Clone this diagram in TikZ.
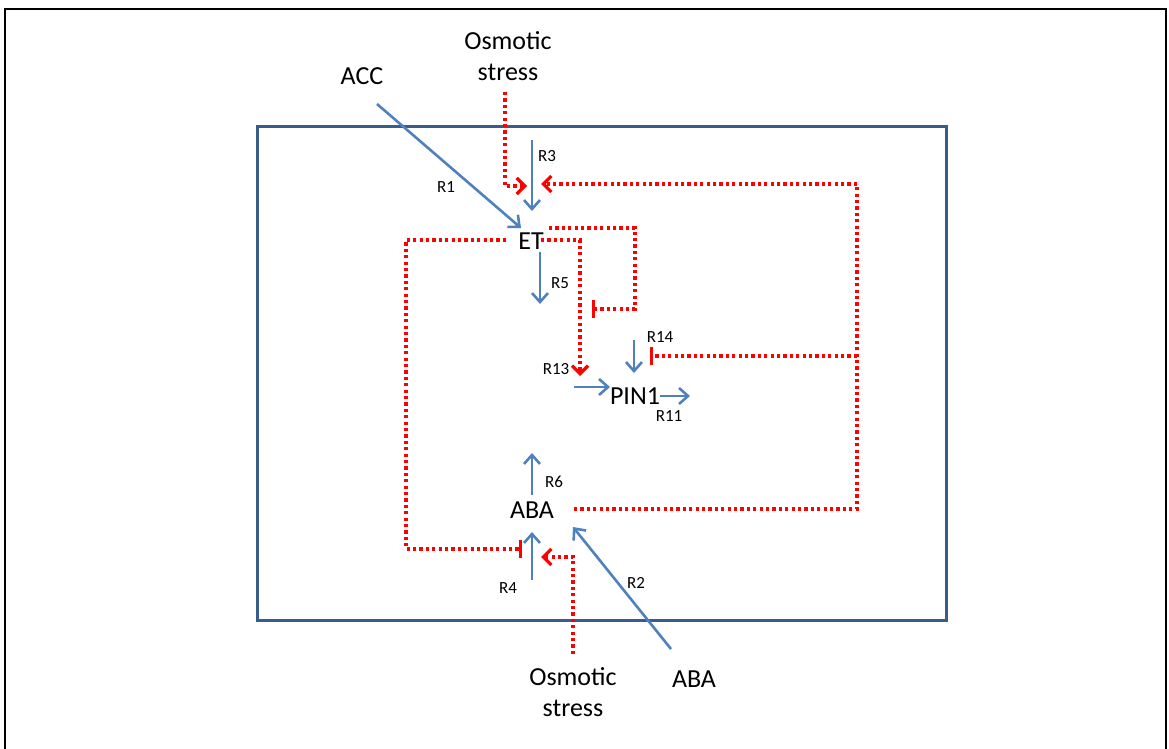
\documentclass[tikz,border=0pt]{standalone}
\usepackage{fontspec}
\setmainfont{Carlito}
\usetikzlibrary{arrows.meta}

\definecolor{arrowblue}{RGB}{79,129,189}
\definecolor{boxblue}{RGB}{56,93,138}
\tikzset{
  bigtext/.style={font=\fontsize{13}{15.5}\selectfont,inner sep=0pt,align=center},
  smalltext/.style={font=\fontsize{8.5}{10}\selectfont,inner sep=0pt},
  bluearrow/.style={draw=arrowblue,line width=1.3pt,-{Straight Barb[length=4.5pt,width=8pt]}},
  reddots/.style={draw=red,line width=1.6pt,dash pattern=on 1.6pt off 1.6pt},
  redarrow/.style={reddots,-{Straight Barb[length=4pt,width=8pt]}},
  redbar/.style={reddots,-{Bar[width=9pt]}},
}

\begin{document}
\begin{tikzpicture}[x=0.5pt,y=-0.5pt]
  \useasboundingbox (0,0) rectangle (1169,749);
  % frame and cell
  \draw[line width=1pt] (5,749) |- (1166,9) -- (1166,749);
  \draw[boxblue,line width=1.5pt] (257,127) rectangle (946,620);
  %
  \node[bigtext] (acc) at (362,76) {ACC};
  \node[bigtext] (osmtop) at (508,56) {Osmotic\\stress};
  \node[bigtext] (et) at (531,241) {ET};
  \node[bigtext] (pin) at (635,396) {PIN1};
  \node[bigtext] (aba) at (532,510) {ABA};
  \node[bigtext] (abaout) at (694,679) {ABA};
  \node[bigtext] (osmbot) at (573,692) {Osmotic\\stress};
  %
  \node[smalltext] (lr1) at (446,187) {R1};
  \node[smalltext] (lr2) at (636,583) {R2};
  \node[smalltext] (lr3) at (547,156) {R3};
  \node[smalltext] (lr4) at (508,588) {R4};
  \node[smalltext] (lr5) at (560,283) {R5};
  \node[smalltext] (lr6) at (554,482) {R6};
  \node[smalltext] (lr11) at (669,416) {R11};
  \node[smalltext] (lr13) at (556,369) {R13};
  \node[smalltext] (lr14) at (660,337) {R14};
  %
  \coordinate (r1s) at (377,104);  \coordinate (r1e) at (521,228);
  \coordinate (r2s) at (671,649);  \coordinate (r2e) at (573,527);
  \coordinate (r3s) at (532,140);  \coordinate (r3e) at (532,211);
  \coordinate (r4s) at (532,580);  \coordinate (r4e) at (532,532);
  \coordinate (r5s) at (540,252);  \coordinate (r5e) at (540,304);
  \coordinate (r6s) at (532,495);  \coordinate (r6e) at (532,453);
  \coordinate (r11s) at (660,396); \coordinate (r11e) at (690,396);
  \coordinate (r13s) at (574,387); \coordinate (r13e) at (610,387);
  \coordinate (r14s) at (634,340); \coordinate (r14e) at (634,373);
  %
  \draw[bluearrow] (r1s) -- (r1e);
  \draw[bluearrow] (r2s) -- (r2e);
  \draw[bluearrow] (r3s) -- (r3e);
  \draw[bluearrow] (r4s) -- (r4e);
  \draw[bluearrow] (r5s) -- (r5e);
  \draw[bluearrow] (r6s) -- (r6e);
  \draw[bluearrow] (r11s) -- (r11e);
  \draw[bluearrow] (r13s) -- (r13e);
  \draw[bluearrow] (r14s) -- (r14e);
  %
  \coordinate (ostop) at (505,92);   \coordinate (ostopend) at (527,186);
  \coordinate (osbot) at (573,654);  \coordinate (osbotend) at (541,557);
  \coordinate (abaright) at (574,509);
  \coordinate (fbtop) at (857,184);  \coordinate (fbtopend) at (541,184);
  \coordinate (fbpin) at (857,356);  \coordinate (fbpinend) at (650,356);
  \coordinate (etr) at (549,228);    \coordinate (etrend) at (592,309);
  \coordinate (etm) at (541,240);    \coordinate (etmend) at (580,376);
  \coordinate (etl) at (506,240);    \coordinate (etlend) at (522,549);
  %
  \draw[redarrow] (ostop) |- (ostopend);
  \draw[redarrow] (osbot) |- (osbotend);
  \draw[reddots] (abaright) -| (fbtop);
  \draw[redarrow] (fbtop) -- (fbtopend);
  \draw[redbar] (fbpin) -- (fbpinend);
  \draw[redbar] (etr) -- (635,228) |- (etrend);
  \draw[redarrow] (etm) -| (etmend);
  \draw[redbar] (etl) -- (406,240) |- (etlend);
\end{tikzpicture}
\end{document}
